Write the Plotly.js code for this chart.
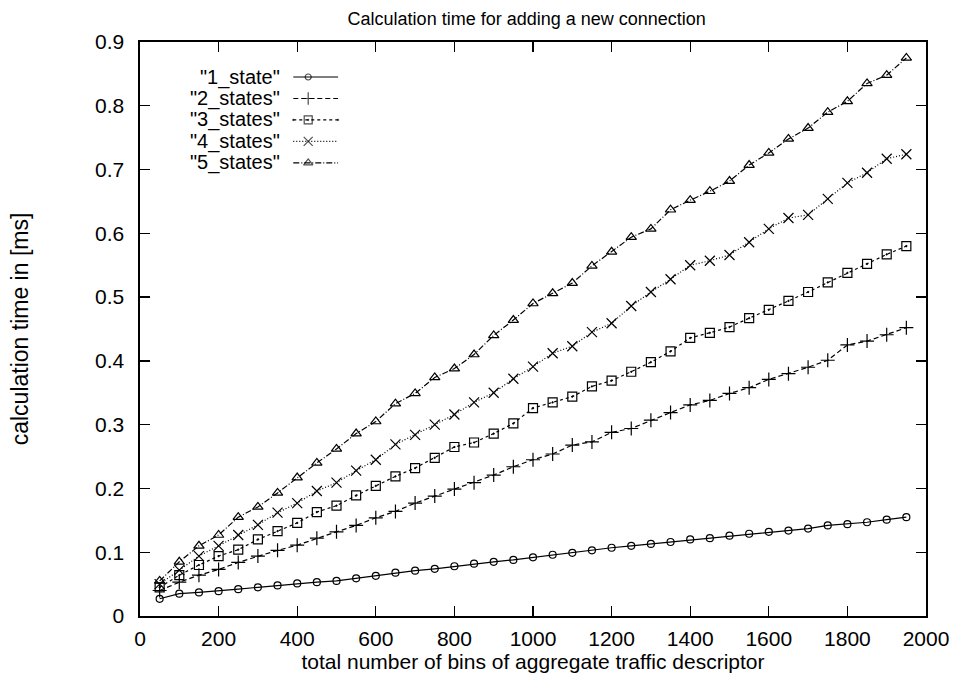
<!DOCTYPE html>
<html>
<head>
<meta charset="utf-8">
<script src="https://cdn.plot.ly/plotly-3.0.1.min.js"></script>
<style>html,body{margin:0;padding:0;background:#fff;}#chart{width:956px;height:677px;}</style>
</head>
<body>
<div id="chart"></div>
<script>
// ---- data ----
const bins = [50,100,150,200,250,300,350,400,450,500,550,600,650,700,750,800,850,900,950,1000,
              1050,1100,1150,1200,1250,1300,1350,1400,1450,1500,1550,1600,1650,1700,1750,1800,1850,1900,1950];
const state1 = [0.027,0.035,0.037,0.039,0.042,0.045,0.048,0.051,0.053,0.055,0.059,0.063,0.068,0.071,0.074,0.078,0.082,0.085,0.088,0.092,
                0.096,0.099,0.103,0.107,0.110,0.113,0.116,0.120,0.122,0.126,0.129,0.132,0.134,0.137,0.142,0.144,0.147,0.151,0.155];
const states2 = [0.040,0.053,0.064,0.073,0.084,0.094,0.103,0.111,0.122,0.132,0.142,0.154,0.164,0.177,0.188,0.199,0.209,0.221,0.234,0.245,
                 0.254,0.268,0.273,0.288,0.294,0.307,0.319,0.331,0.338,0.349,0.358,0.371,0.380,0.390,0.401,0.425,0.431,0.441,0.452];
const states3 = [0.045,0.064,0.080,0.094,0.104,0.120,0.133,0.146,0.163,0.173,0.189,0.204,0.219,0.232,0.248,0.265,0.272,0.286,0.302,0.326,
                 0.335,0.344,0.360,0.369,0.383,0.398,0.415,0.436,0.444,0.453,0.467,0.480,0.494,0.508,0.523,0.538,0.552,0.567,0.580];
const states4 = [0.050,0.072,0.094,0.110,0.127,0.143,0.162,0.177,0.196,0.209,0.228,0.245,0.269,0.284,0.300,0.316,0.335,0.350,0.372,0.391,
                 0.412,0.423,0.445,0.459,0.486,0.508,0.528,0.550,0.557,0.566,0.586,0.607,0.624,0.629,0.654,0.679,0.695,0.717,0.724];
const states5 = [0.055,0.085,0.110,0.127,0.155,0.171,0.193,0.217,0.240,0.262,0.286,0.305,0.333,0.349,0.374,0.388,0.410,0.440,0.464,0.490,
                 0.506,0.522,0.549,0.571,0.594,0.607,0.637,0.652,0.666,0.682,0.707,0.726,0.748,0.765,0.790,0.807,0.835,0.848,0.875];
const seriesNames = ['"1_state"','"2_states"','"3_states"','"4_states"','"5_states"'];
const xTickVals = [0,200,400,600,800,1000,1200,1400,1600,1800,2000];
const yTickVals = [0,0.1,0.2,0.3,0.4,0.5,0.6,0.7,0.8,0.9];

// ---- styles ----
const seriesY = [state1, states2, states3, states4, states5];
const dashes = ['solid','5px,3px','3px,3px','1px,2px','6px,2px,1px,2px'];
const symbols = ['circle-open','cross-thin-open','square-open-dot','x-thin-open','triangle-up-open'];
const sizes = [7,10,9,10,9];
const FONT = 'Liberation Sans, Arial, Helvetica, sans-serif';

const traces = seriesY.map((ys, i) => ({
  type: 'scatter', mode: 'lines+markers', x: bins, y: ys, name: seriesNames[i],
  line: {color: '#000', width: 1.2, dash: dashes[i]},
  marker: {symbol: symbols[i], size: sizes[i], color: '#000', line: {color: '#000', width: 1.2}},
  showlegend: false, cliponaxis: false
}));

// gnuplot-style legend (text left, sample right), on an overlay axis in [0,1]
const legX0 = 0.195, legXm = 0.214, legX1 = 0.252, legTop = 0.939, legStep = 0.0374, legTextX = 0.181;
const annotations = [];
seriesNames.forEach((nm, i) => {
  const yy = legTop - i * legStep;
  traces.push({
    type: 'scatter', mode: 'lines+markers', x: [legX0, legXm, legX1], y: [yy, yy, yy],
    xaxis: 'x2', yaxis: 'y2', hoverinfo: 'skip', showlegend: false,
    line: {color: '#000', width: 1.2, dash: dashes[i]},
    marker: {symbol: symbols[i], size: [0, sizes[i] - 1, 0], color: '#000', line: {color: '#000', width: 1.2}}
  });
  annotations.push({
    xref: 'paper', yref: 'paper', x: legTextX, y: yy, xanchor: 'right', yanchor: 'middle',
    text: nm, showarrow: false, font: {family: FONT, size: 20, color: '#000'}
  });
});

const axisCommon = {
  showgrid: false, zeroline: false, showline: true, linecolor: '#000', linewidth: 1.6,
  mirror: 'ticks', ticks: 'inside', ticklen: 10, tickwidth: 1.4, tickcolor: '#000',
  tickfont: {family: FONT, size: 21, color: '#000'}
};

const layout = {
  width: 956, height: 677,
  margin: {l: 140, r: 30, t: 42, b: 61},
  paper_bgcolor: '#fff', plot_bgcolor: '#fff',
  title: {text: 'Calculation time for adding a new connection', x: 0.492, xref: 'paper', xanchor: 'center',
          y: 0.973, yref: 'container', yanchor: 'middle', font: {family: FONT, size: 18, color: '#000'}},
  xaxis: Object.assign({}, axisCommon, {
    range: [0, 2000], tickmode: 'array', tickvals: xTickVals, ticklabelstandoff: 3,
    title: {text: 'total number of bins of aggregate traffic descriptor', standoff: 0,
            font: {family: FONT, size: 21, color: '#000'}}
  }),
  yaxis: Object.assign({}, axisCommon, {
    range: [0, 0.9], tickmode: 'array', tickvals: yTickVals, ticktext: yTickVals.map(v => String(v)),
    ticklabelstandoff: 10,
    title: {text: 'calculation time in [ms]', standoff: 60, font: {family: FONT, size: 23, color: '#000'}}
  }),
  xaxis2: {overlaying: 'x', range: [0, 1], visible: false, fixedrange: true},
  yaxis2: {overlaying: 'y', range: [0, 1], visible: false, fixedrange: true},
  annotations: annotations,
  showlegend: false
};

Plotly.newPlot('chart', traces, layout, {displayModeBar: false, staticPlot: true});
</script>
</body>
</html>
